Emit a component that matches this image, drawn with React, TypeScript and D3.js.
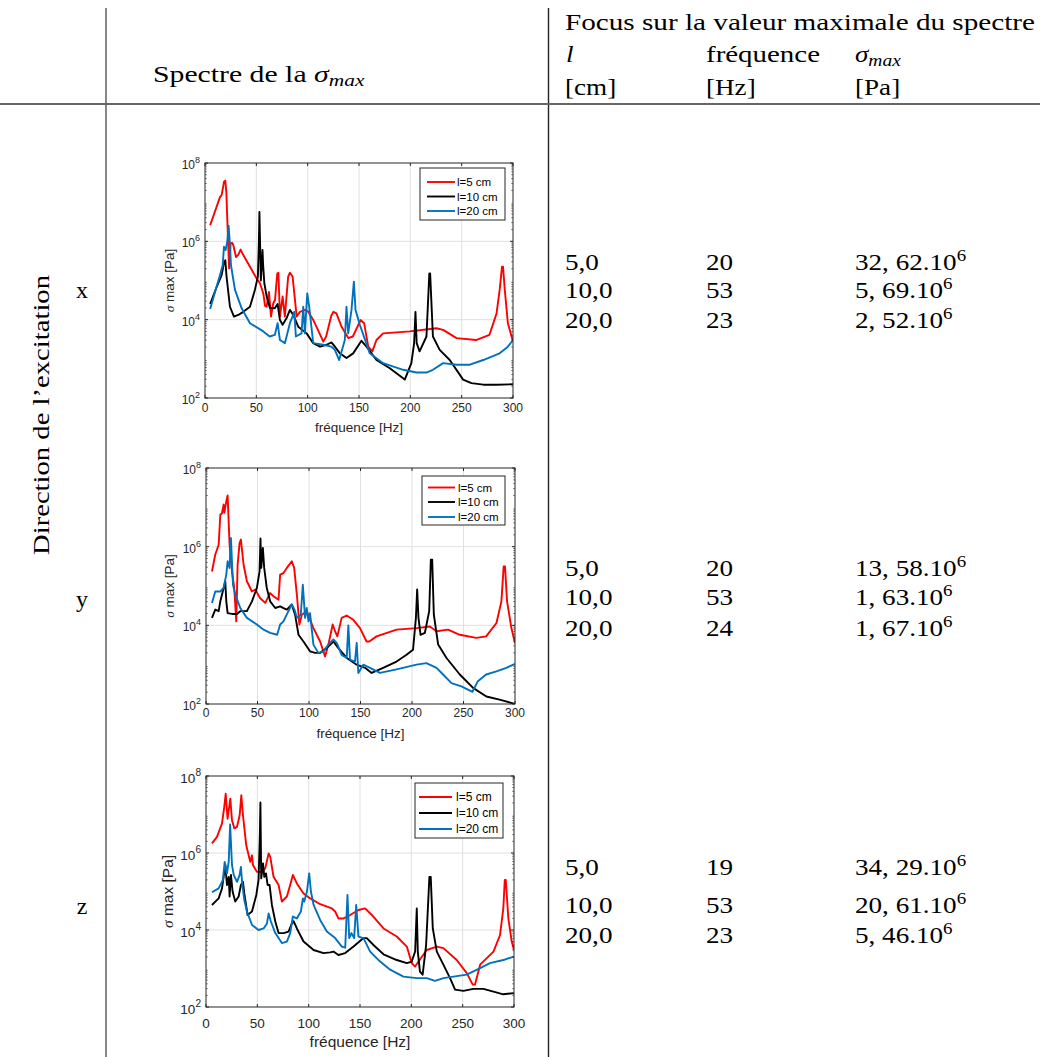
import React from "react";
import * as d3 from "d3";

// ---------- data ----------
const FREQ_TICKS = [0, 50, 100, 150, 200, 250, 300];
const Y_EXPONENTS = [2, 4, 6, 8];
const LEGEND_LABELS = ["l=5 cm", "l=10 cm", "l=20 cm"];
const SERIES_COLORS = ["#ff0000", "#000000", "#0072bd"];

// [frequency Hz, log10(sigma max / Pa)]
const X_RED = [[5,6.41],[14.6,7.13],[16.2,7.18],[18.5,7.52],[19.8,7.55],[20.8,7.25],[22.2,6.2],[23.5,5.31],[25,5.95],[26.5,5.96],[27.6,5.9],[30.2,5.6],[32.5,5.66],[34.7,5.79],[37.3,5.65],[43.8,5.35],[50.3,5.05],[53.5,4.93],[56.8,4.67],[58.5,4.35],[60,4.33],[62.3,4.71],[64.3,4.08],[66.5,4.42],[68.2,4.5],[70.4,5.18],[71.5,5.2],[73,4.08],[75.6,4.59],[77.8,4.08],[81,5.1],[82.7,5.2],[85.3,5.1],[89.3,4.08],[92.5,4.2],[97.4,4.25],[100,4.22],[105.5,3.99],[110,3.74],[115.2,3.44],[118,3.57],[123,4.1],[125,4.2],[128,4.16],[133,3.82],[139.6,3.53],[144,3.57],[151.5,3.99],[155,3.91],[159,3.31],[163,3.19],[167,3.48],[173.5,3.65],[199.5,3.7],[225.4,3.78],[232,3.74],[245,3.53],[264,3.48],[277,3.61],[284,4.16],[287,4.76],[289.3,5.35],[290.3,5.35],[292,4.76],[295,3.91],[300,3.44]];
const X_BLACK = [[5,4.4],[11.4,4.84],[16.2,5.14],[18.5,5.45],[19.8,5.52],[21,5.1],[24.3,4.33],[28.2,4.08],[32.4,4.12],[37.3,4.2],[43.8,4.33],[48.6,4.76],[51.5,5.1],[52.5,6.0],[53,6.75],[53.6,6.0],[54.4,5.0],[55.5,5.5],[56,5.78],[56.6,5.4],[57.8,4.93],[60,4.6],[63.2,4.3],[68,4.29],[70.7,4.4],[73,3.99],[75.6,3.87],[79.5,4.04],[82.7,4.25],[86,4.12],[90.8,3.82],[99,3.65],[105.4,3.4],[112,3.31],[118.4,3.36],[123.2,3.42],[126.5,3.31],[131.4,3.14],[137.8,3.02],[144.3,3.14],[152.4,3.46],[157.3,3.31],[167,2.97],[180,2.76],[194.6,2.47],[201,2.89],[203.7,3.4],[205,4.2],[206.2,3.4],[209,3.19],[215.7,3.57],[218.5,5.18],[219.3,5.18],[222,3.57],[228.6,3.23],[238.4,2.97],[251.4,2.47],[259.5,2.38],[271,2.34],[284,2.34],[300,2.35]];
const X_BLUE = [[5,4.27],[14.6,5.14],[17.2,5.39],[18.5,5.86],[20.1,5.78],[21.7,6.0],[23,6.4],[24.2,5.95],[25.3,5.39],[29.2,4.76],[35.7,4.29],[43.8,3.91],[56.8,3.7],[63,3.57],[68,3.61],[70.7,3.91],[73,3.48],[77.8,3.4],[82.7,3.91],[87,4.2],[88.5,3.57],[94,3.65],[95.7,4.33],[97.3,3.65],[99.6,4.67],[101.5,4.33],[105.4,3.4],[115,3.36],[123.2,3.31],[126.5,3.23],[130.7,2.97],[136.2,3.48],[137.8,4.33],[139.5,3.65],[142.7,4.25],[145,4.97],[146.6,4.25],[150.8,3.87],[160.5,3.14],[173.5,2.89],[193,2.72],[206,2.65],[215.7,2.65],[222,2.72],[232,2.89],[245,2.85],[258,2.85],[271,2.97],[287,3.14],[295,3.31],[300,3.48]];

const Y_RED = [[5.8,5.37],[9,5.8],[12.3,6.05],[13.9,6.81],[15.5,6.85],[17.1,7.07],[17.8,6.86],[19.7,7.15],[21,7.3],[22.9,6.05],[25.2,5.37],[27.4,4.95],[29.4,4.1],[30.7,5.54],[32.6,6.09],[33.9,6.18],[36.5,5.54],[39.7,5.12],[44.6,4.86],[47.8,4.91],[52.6,4.69],[57.5,4.57],[62.3,4.82],[65.5,4.74],[70.4,4.65],[72,5.29],[75.2,5.33],[78.5,5.46],[83.3,5.63],[85.6,5.46],[88.2,4.78],[90.7,4.02],[93,4.27],[97.8,4.36],[104.3,3.93],[110.8,3.59],[115.6,3.21],[118.8,3.51],[123,4.02],[125.3,3.85],[127.5,3.72],[131.7,4.19],[136.6,4.25],[143,4.14],[149.5,3.93],[155.9,3.59],[158.5,3.59],[165.6,3.72],[185,3.89],[204.4,3.93],[217.3,3.97],[223.8,3.85],[235,3.89],[246.4,3.76],[262.5,3.68],[272,3.72],[282,4.06],[286.8,4.61],[289,5.5],[290.3,5.5],[292.3,4.61],[296.5,3.93],[300,3.55]];
const Y_BLACK = [[5.8,4.19],[9,4.4],[12.3,4.36],[13.9,4.61],[15.5,4.78],[17.1,4.95],[18.7,5.12],[19.7,4.61],[21,4.31],[25.2,4.29],[30,4.29],[33.3,4.36],[39.7,4.36],[44.6,4.61],[49.4,4.95],[52,5.37],[52.9,6.21],[53.6,5.46],[55.2,5.97],[56.5,5.46],[59,4.95],[62.3,4.61],[67.2,4.44],[72,4.48],[75.2,4.44],[78.5,4.4],[83.3,4.53],[86.5,4.27],[89.8,3.76],[94.6,3.59],[101,3.34],[105.9,3.3],[110.8,3.3],[117.2,3.42],[123.7,3.59],[128.5,3.42],[136.6,3.17],[146.3,3.0],[154.4,2.92],[160.8,2.79],[172,2.92],[185,3.08],[194.7,3.25],[201,3.38],[203.8,4.19],[205,4.91],[206.3,4.19],[208.3,3.76],[212.5,3.81],[216.7,4.36],[218.3,5.67],[219.6,5.67],[221.2,4.27],[225.4,3.51],[233.5,3.17],[246.4,2.75],[259.3,2.41],[272.2,2.19],[285,2.11],[300,2.0]];
const Y_BLUE = [[5.8,4.57],[9,4.86],[13.9,4.86],[17.1,4.95],[19.7,5.29],[21,5.63],[22.9,5.46],[24.2,6.22],[26.2,5.03],[28.4,4.78],[33.3,4.44],[39.7,4.19],[49.4,4.02],[55.9,3.89],[62.3,3.81],[69.1,3.76],[72,4.02],[75.2,4.1],[80,4.36],[83.3,4.53],[85.9,4.4],[88.2,4.19],[92,4.27],[94,5.03],[96.2,4.19],[97.8,4.44],[99.5,4.1],[101,4.31],[104.3,3.51],[109,3.3],[114,3.34],[118.8,3.51],[123.7,3.64],[127,3.55],[131.7,3.25],[136.6,3.17],[138.2,4.0],[139.8,3.13],[144.6,3.08],[146.3,3.55],[147.9,2.79],[152.7,3.0],[159.2,2.92],[168.9,2.79],[185,2.88],[204.4,3.0],[214,3.04],[223.8,2.92],[230.2,2.75],[238.3,2.53],[248,2.45],[258.7,2.31],[264,2.58],[272,2.75],[282,2.83],[291.6,2.92],[300,3.02]];

const Z_RED = [[5.8,6.25],[10.7,6.42],[15.6,6.77],[17.8,7.2],[19.2,7.54],[21,6.89],[23.7,7.41],[25.3,6.85],[27.6,6.64],[30.2,6.68],[32.8,6.98],[34.4,7.5],[36,6.98],[39.2,6.2],[43.1,5.77],[44.8,5.94],[45.7,5.69],[49.6,5.51],[54.5,5.51],[57.7,5.6],[61,5.99],[62.6,5.9],[65.8,5.38],[70.7,5.17],[73.9,4.74],[78.8,4.87],[82,5.17],[84.6,5.43],[88.5,5.21],[95,4.95],[101.5,4.82],[111.2,4.67],[122.6,4.56],[125.8,4.48],[129,4.3],[134,4.3],[140.4,4.39],[148.5,4.52],[155,4.56],[161.5,4.39],[172.9,4.04],[185.8,3.83],[195.6,3.57],[200.4,3.14],[203.7,3.05],[207,3.18],[215,3.48],[224.8,3.57],[231.2,3.53],[244.2,3.22],[254,2.88],[259.8,2.58],[262,2.58],[267,3.1],[280,3.44],[286.4,3.87],[289.6,4.56],[291,5.3],[292,5.3],[294.5,4.3],[297.8,3.7],[300,3.48]];
const Z_BLACK = [[5.8,4.65],[12.3,4.82],[15.6,5.08],[18.8,5.69],[20.4,5.17],[22.1,5.38],[23,4.87],[24.3,5.43],[25.9,5.0],[28.5,4.74],[31.8,4.87],[34,5.17],[36,5.25],[37.3,4.95],[40.5,4.39],[44.8,4.48],[49,4.91],[51.2,5.3],[52.5,6.5],[53,7.31],[53.8,5.34],[55.5,5.73],[56.8,5.38],[58.4,5.47],[60,5.17],[61.9,5.17],[64.2,4.65],[67.5,4.22],[70.7,3.92],[75.6,3.92],[80.4,3.96],[83.7,4.17],[85.3,4.23],[88.5,4.04],[95,3.7],[104.8,3.48],[114.5,3.4],[120.9,3.42],[124.2,3.44],[129,3.35],[135.6,3.4],[143.7,3.57],[153.4,3.79],[156.6,3.79],[163.1,3.61],[172.9,3.37],[185.8,3.22],[195.6,3.14],[200.4,3.18],[203.7,3.44],[205.3,4.56],[206.3,3.44],[208.4,2.92],[211,2.84],[214.4,3.61],[217.6,5.38],[218.9,5.38],[220.9,4.04],[224.8,3.44],[231.2,3.1],[237.7,2.75],[242.6,2.45],[250.7,2.42],[260.4,2.47],[270.2,2.47],[280,2.4],[289.6,2.33],[300,2.36]];
const Z_BLUE = [[5.8,4.98],[12.3,5.08],[16.5,5.3],[18.2,5.77],[20.4,5.47],[22.1,5.77],[23.5,6.74],[25.3,5.69],[27,5.43],[30.2,5.25],[32.8,5.43],[34,5.64],[35.4,5.17],[37.3,4.78],[39.9,4.48],[44.8,4.13],[51.2,4.0],[56.1,4.04],[59.4,4.17],[61,4.43],[63.2,4.22],[67.5,3.92],[70.7,3.79],[73.9,3.66],[78.8,3.7],[82,3.92],[84.6,4.35],[88.5,4.3],[92.4,4.48],[94.4,4.82],[95.7,4.74],[98.3,5.0],[100.5,5.47],[102.2,5.0],[104.8,4.65],[111.2,4.26],[117.7,3.96],[125.8,3.79],[132.3,3.57],[135.6,3.54],[137.8,4.91],[139.5,3.79],[141.7,3.92],[144.3,3.79],[146.3,4.65],[148.5,3.83],[153.4,3.79],[159.9,3.44],[169.6,3.18],[179.4,2.97],[192.3,2.79],[205.3,2.75],[215,2.75],[223.1,2.68],[231.2,2.75],[241,2.79],[254,2.84],[267,3.01],[276.6,3.14],[289.6,3.22],[300,3.31]];

const DIRECTIONS = ["x", "y", "z"];
const LENGTHS = ["5,0", "10,0", "20,0"];
const FREQ_X = ["20", "53", "23"];
const FREQ_Y = ["20", "53", "24"];
const FREQ_Z = ["19", "53", "23"];
const SIGMA_X = ["32, 62", "5, 69", "2, 52"];
const SIGMA_Y = ["13, 58", "1, 63", "1, 67"];
const SIGMA_Z = ["34, 29", "20, 61", "5, 46"];

// ---------- layout ----------
const SERIF = "Liberation Serif, DejaVu Serif, serif";
const SANS = "Liberation Sans, Arial, Helvetica, sans-serif";
const SX = 1.13; // horizontal stretch to approach LaTeX (Computer Modern) widths

const PLOTS = [
  { key: "px", x0: 205, x1: 513, y0: 163, y1: 398, fs: 12, lfs: 13.5, tickY: 412, labY: 432, ylabX: 174,
    leg: { x: 420, y: 168, w: 85, h: 52, rows: [182, 196.5, 211], lx0: 427, lx1: 455, tx: 457, fs: 11.5 },
    data: [X_RED, X_BLACK, X_BLUE] },
  { key: "py", x0: 206, x1: 515, y0: 468, y1: 704, fs: 12, lfs: 13.5, tickY: 717, labY: 738, ylabX: 174,
    leg: { x: 422, y: 476, w: 83, h: 49, rows: [487.5, 502, 517], lx0: 428, lx1: 455, tx: 458, fs: 11.5 },
    data: [Y_RED, Y_BLACK, Y_BLUE] },
  { key: "pz", x0: 206, x1: 514, y0: 776, y1: 1007, fs: 13.5, lfs: 15.5, tickY: 1028, labY: 1047, ylabX: 173,
    leg: { x: 415, y: 783, w: 88, h: 55, rows: [797, 813, 829], lx0: 419, lx1: 452, tx: 456, fs: 12 },
    data: [Z_RED, Z_BLACK, Z_BLUE] },
];

function Plot({ p }: { p: any }) {
  const x = d3.scaleLinear().domain([0, 300]).range([p.x0, p.x1]);
  const y = d3.scaleLog().domain([1e2, 1e8]).range([p.y1, p.y0]);
  const line = d3
    .line<number[]>()
    .x((d) => x(d[0]))
    .y((d) => y(Math.pow(10, d[1])));
  const clipId = "clip-" + p.key;
  const axisColor = "#262626";
  const tl = 3;
  const minor: number[] = [];
  for (let e = 2; e < 8; e++) for (let m = 2; m <= 9; m++) minor.push(m * Math.pow(10, e));
  return (
    <g>
      <defs>
        <clipPath id={clipId}>
          <rect x={p.x0} y={p.y0} width={p.x1 - p.x0} height={p.y1 - p.y0} />
        </clipPath>
      </defs>
      <rect x={p.x0} y={p.y0} width={p.x1 - p.x0} height={p.y1 - p.y0} fill="#fff" />
      {FREQ_TICKS.slice(1, -1).map((t) => (
        <line key={"gx" + t} x1={x(t)} x2={x(t)} y1={p.y0} y2={p.y1} stroke="#e0e0e0" strokeWidth={1} />
      ))}
      {Y_EXPONENTS.slice(1, -1).map((e) => (
        <line key={"gy" + e} x1={p.x0} x2={p.x1} y1={y(Math.pow(10, e))} y2={y(Math.pow(10, e))} stroke="#e0e0e0" strokeWidth={1} />
      ))}
      <g clipPath={`url(#${clipId})`}>
        {p.data.map((s: number[][], i: number) => (
          <path key={i} d={line(s) || ""} fill="none" stroke={SERIES_COLORS[i]} strokeWidth={1.9} strokeLinejoin="round" />
        ))}
      </g>
      <rect x={p.x0} y={p.y0} width={p.x1 - p.x0} height={p.y1 - p.y0} fill="none" stroke={axisColor} strokeWidth={1} />
      {FREQ_TICKS.map((t) => (
        <g key={"tx" + t}>
          <line x1={x(t)} x2={x(t)} y1={p.y1} y2={p.y1 - tl} stroke={axisColor} />
          <line x1={x(t)} x2={x(t)} y1={p.y0} y2={p.y0 + tl} stroke={axisColor} />
          <text x={x(t)} y={p.tickY} textAnchor="middle" fontFamily={SANS} fontSize={p.fs} fill={axisColor}>
            {t}
          </text>
        </g>
      ))}
      {minor.map((v, i) => (
        <g key={"mn" + i}>
          <line x1={p.x0} x2={p.x0 + 1.8} y1={y(v)} y2={y(v)} stroke={axisColor} strokeWidth={0.6} />
          <line x1={p.x1} x2={p.x1 - 1.8} y1={y(v)} y2={y(v)} stroke={axisColor} strokeWidth={0.6} />
        </g>
      ))}
      {Y_EXPONENTS.map((e) => (
        <g key={"ty" + e}>
          <line x1={p.x0} x2={p.x0 + tl} y1={y(Math.pow(10, e))} y2={y(Math.pow(10, e))} stroke={axisColor} />
          <line x1={p.x1} x2={p.x1 - tl} y1={y(Math.pow(10, e))} y2={y(Math.pow(10, e))} stroke={axisColor} />
          <text x={p.x0 - 5} y={y(Math.pow(10, e)) + p.fs * 0.5} textAnchor="end" fontFamily={SANS} fontSize={p.fs} fill={axisColor}>
            10
            <tspan dy={-p.fs * 0.5} fontSize={p.fs * 0.75}>
              {e}
            </tspan>
          </text>
        </g>
      ))}
      <text x={(p.x0 + p.x1) / 2} y={p.labY} textAnchor="middle" fontFamily={SANS} fontSize={p.lfs} fill={axisColor}>
        fréquence [Hz]
      </text>
      <text
        transform={`translate(${p.ylabX},${(p.y0 + p.y1) / 2}) rotate(-90)`}
        textAnchor="middle"
        fontFamily={SANS}
        fontSize={p.lfs}
        fill={axisColor}
      >
        <tspan fontStyle="italic" fontFamily={SERIF}>σ</tspan> max [Pa]
      </text>
      <rect x={p.leg.x} y={p.leg.y} width={p.leg.w} height={p.leg.h} fill="#fff" stroke={axisColor} strokeWidth={1} />
      {LEGEND_LABELS.map((lab, i) => (
        <g key={"lg" + i}>
          <line x1={p.leg.lx0} x2={p.leg.lx1} y1={p.leg.rows[i]} y2={p.leg.rows[i]} stroke={SERIES_COLORS[i]} strokeWidth={1.9} />
          <text x={p.leg.tx} y={p.leg.rows[i] + p.leg.fs * 0.36} fontFamily={SANS} fontSize={p.leg.fs} fill="#000">
            {lab}
          </text>
        </g>
      ))}
    </g>
  );
}

// table text, anchored at (x, y) and stretched horizontally
function T({ x, y, sx = SX, italic = false, fs = 24, children }: any) {
  return (
    <text
      transform={`translate(${x},${y}) scale(${sx},1)`}
      fontFamily={SERIF}
      fontSize={fs}
      fontStyle={italic ? "italic" : "normal"}
      fill="#000"
    >
      {children}
    </text>
  );
}

const ROW_BASE = [
  [270, 297.5, 328],
  [575.5, 605, 636],
  [875, 913, 943],
];
const DIR_BASE = [298, 607, 914];

export default function App() {
  const FS = 24;
  const freqs = [FREQ_X, FREQ_Y, FREQ_Z];
  const sigmas = [SIGMA_X, SIGMA_Y, SIGMA_Z];
  return (
    <svg width={1040} height={1057} style={{ position: "absolute", left: 0, top: 0, background: "#fff" }}>
      <rect x={0} y={0} width={1040} height={1057} fill="#fff" />
      {/* table rules */}
      <line x1={106} x2={106} y1={8} y2={1057} stroke="#555" strokeWidth={1.4} />
      <line x1={548.5} x2={548.5} y1={8} y2={1057} stroke="#222" strokeWidth={1.4} />
      <line x1={0} x2={1040} y1={104} y2={104} stroke="#666" strokeWidth={1.8} />

      {/* header */}
      <T x={153} y={82} sx={1.24}>
        Spectre de la{" "}
        <tspan fontStyle="italic">σ</tspan>
        <tspan fontStyle="italic" dy={4} fontSize={FS * 0.72}>max</tspan>
      </T>
      <text x={565} y={30} fontFamily={SERIF} fontSize={FS} textLength={470} lengthAdjust="spacingAndGlyphs">
        Focus sur la valeur maximale du spectre
      </text>
      <T x={566} y={62} italic>l</T>
      <text x={706} y={62} fontFamily={SERIF} fontSize={FS} textLength={114} lengthAdjust="spacingAndGlyphs">fréquence</text>
      <T x={855} y={62} italic>
        σ
        <tspan dy={4} fontSize={FS * 0.72}>max</tspan>
      </T>
      <T x={565} y={95}>[cm]</T>
      <T x={706} y={95}>[Hz]</T>
      <T x={855} y={95}>[Pa]</T>

      {/* left column */}
      <text transform="translate(49,415) rotate(-90)" textAnchor="middle" fontFamily={SERIF} fontSize={FS} textLength={280} lengthAdjust="spacingAndGlyphs">
        Direction de l’excitation
      </text>
      {DIRECTIONS.map((d, i) => (
        <text key={d} x={82} y={DIR_BASE[i]} textAnchor="middle" fontFamily={SERIF} fontSize={FS}>
          {d}
        </text>
      ))}

      {/* values */}
      {ROW_BASE.map((rows, g) =>
        rows.map((yy, r) => (
          <g key={g + "-" + r}>
            <T x={565} y={yy}>{LENGTHS[r]}</T>
            <T x={706} y={yy}>{freqs[g][r]}</T>
            <T x={855} y={yy}>
              {sigmas[g][r]}.10
              <tspan dy={-9} fontSize={FS * 0.7}>6</tspan>
            </T>
          </g>
        ))
      )}

      {PLOTS.map((p) => (
        <Plot key={p.key} p={p} />
      ))}
    </svg>
  );
}
